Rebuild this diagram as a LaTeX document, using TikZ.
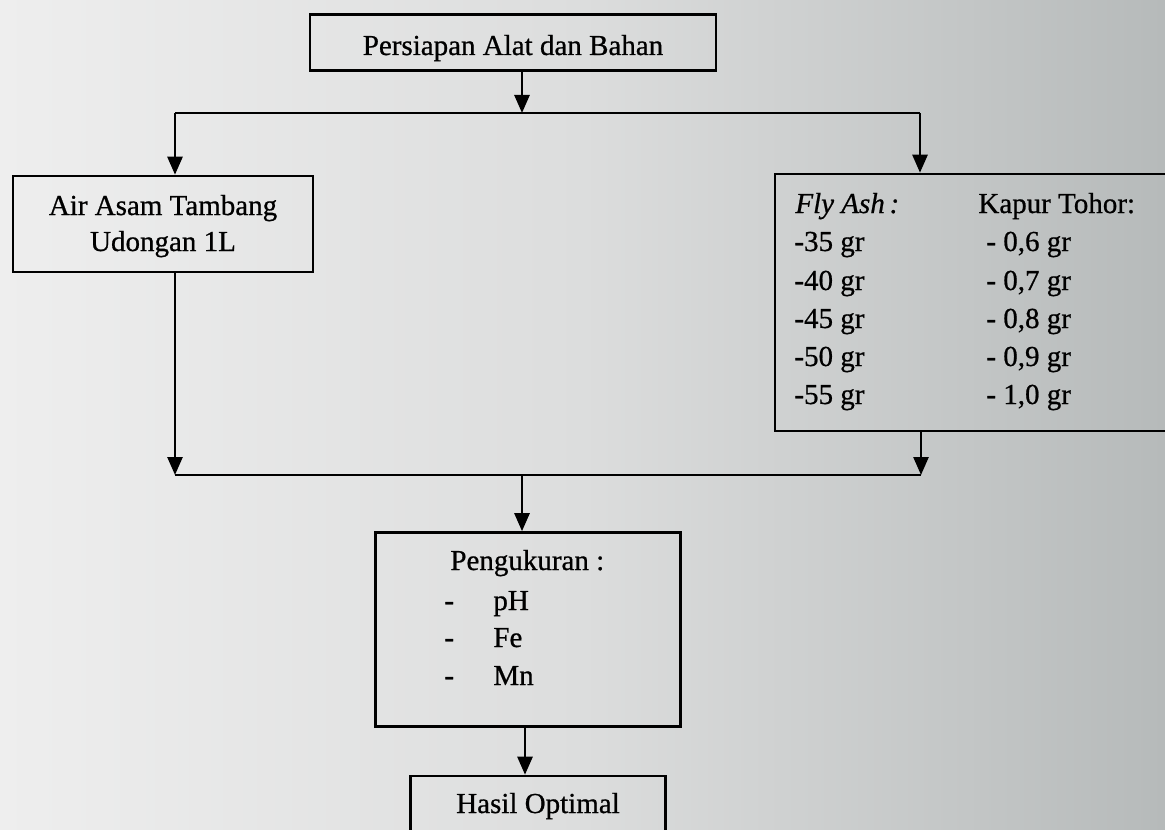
\documentclass[tikz,border=0pt]{standalone}
\usepackage{fontspec}
\setmainfont{Liberation Serif}[FakeBold=0.7]
\usetikzlibrary{arrows.meta,calc}
\definecolor{bgleft}{RGB}{238,238,238}
\definecolor{bgmid}{RGB}{220,221,221}
\definecolor{bgright}{RGB}{182,186,186}
\tikzset{
  box/.style={draw=black, line width=1.3pt, fill=none, inner sep=0pt},
  txt/.style={anchor=base west, inner sep=0pt, font=\fontsize{14.5}{17}\selectfont},
  ctxt/.style={anchor=base, inner sep=0pt, font=\fontsize{14.5}{17}\selectfont},
  wire/.style={line width=1.3pt, black},
  flow/.style={wire, -{Triangle[length=9pt,width=7.5pt]}}
}
\begin{document}
\begin{tikzpicture}[x=0.5pt,y=-0.5pt]
  % page area and grey paper tone
  \useasboundingbox (0,0) rectangle (1165,829);
  \shade[left color=bgleft, right color=bgright, middle color=bgmid] (0,0) rectangle (1165,829);
  \clip (0,0) rectangle (1165,829);

  % boxes
  \node[box, minimum width=203pt, minimum height=28pt] (top) at (513,42.5) {};
  \node[box, minimum width=150pt, minimum height=48pt] (left) at (163,224) {};
  \node[box, minimum width=205pt, minimum height=128.5pt] (right) at (980,302.5) {};
  \node[box, minimum width=152.5pt, minimum height=97pt] (mid) at (528,629.5) {};
  \node[box, minimum width=127.5pt, minimum height=40pt] (bot) at (538,816) {};

  % box texts
  \node[ctxt] (t1) at (513,55) {Persiapan Alat dan Bahan};
  \node[ctxt] (l1) at (163,215) {Air Asam Tambang};
  \node[ctxt] (l2) at (163,251) {Udongan 1L};

  \node[txt] (fa) at (795,213) {\itshape Fly Ash\,:};
  \node[txt] (kt) at (978,213) {Kapur Tohor:};
  \node[txt] (f1) at (794,251) {-35 gr};
  \node[txt] (f2) at (794,290) {-40 gr};
  \node[txt] (f3) at (794,328) {-45 gr};
  \node[txt] (f4) at (794,366) {-50 gr};
  \node[txt] (f5) at (794,404) {-55 gr};
  \node[txt] (k1) at (986,251) {- 0,6 gr};
  \node[txt] (k2) at (986,290) {- 0,7 gr};
  \node[txt] (k3) at (986,328) {- 0,8 gr};
  \node[txt] (k4) at (986,366) {- 0,9 gr};
  \node[txt] (k5) at (986,404) {- 1,0 gr};

  \node[txt] (p0) at (450,570) {Pengukuran :};
  \node[txt] (d1) at (444,610) {-};
  \node[txt] (d2) at (444,647) {-};
  \node[txt] (d3) at (444,685) {-};
  \node[txt] (p1) at (493,610) {pH};
  \node[txt] (p2) at (493,647) {Fe};
  \node[txt] (p3) at (493,685) {Mn};

  \node[ctxt] (b1) at (538,813) {Hasil Optimal};

  % junction points
  \coordinate (s) at (522,113);
  \coordinate (sl) at (175,113);
  \coordinate (sr) at (920,113);
  \coordinate (jl) at (175,475);
  \coordinate (jr) at (921,475);
  \coordinate (jm) at (522,475);
  \coordinate (jb) at (525,750);

  % connectors
  \draw[flow] (top.south -| s) -- (s);
  \draw[wire] (sl) -- (sr);
  \draw[flow] (sl) -- (left.north -| sl);
  \draw[flow] (sr) -- (right.north -| sr);
  \draw[flow] (left.south -| jl) -- (jl);
  \draw[flow] (right.south -| jr) -- (jr);
  \draw[wire] (jl) -- (jr);
  \draw[flow] (jm) -- (mid.north -| jm);
  \draw[flow] (mid.south -| jb) -- (bot.north -| jb);
\end{tikzpicture}
\end{document}
